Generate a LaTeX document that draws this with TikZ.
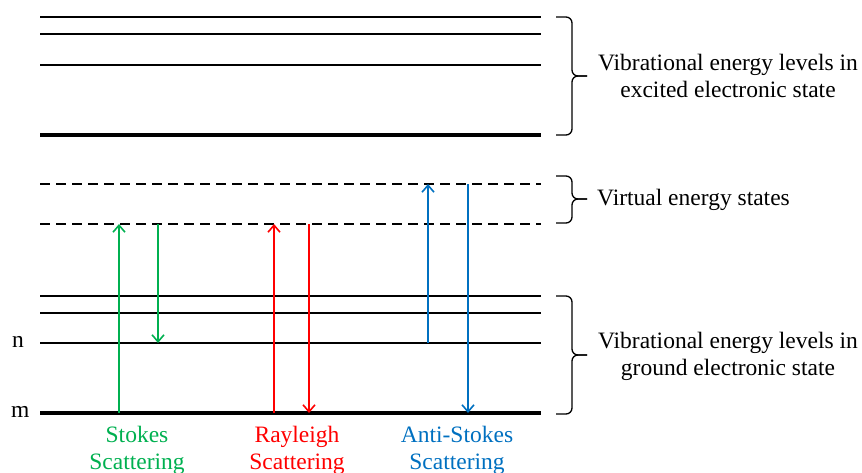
\documentclass[tikz,border=0pt]{standalone}
\usepackage{fontspec}
\setmainfont{Liberation Serif}
\usetikzlibrary{arrows.meta}
\definecolor{stokesgreen}{HTML}{00B050}
\definecolor{rayred}{HTML}{FF0000}
\definecolor{antiblue}{HTML}{0070C0}

% curly brace drawn from straight pieces with rounded joints
\newcommand\levelbrace[4]{%
  \draw[bracepath] (556,#1) -- (572,#1) -- (572,#2) -- (587,#2) coordinate (#4);
  \draw[bracepath] (556,#3) -- (572,#3) -- (572,#2) -- (587,#2);
}

\begin{document}
\begin{tikzpicture}[x=1pt,y=-1pt,
  thinlevel/.style={line width=1.7pt},
  thicklevel/.style={line width=3.6pt},
  virtlevel/.style={line width=1.7pt, dash pattern=on 10pt off 6pt},
  transition/.style={line width=1.6pt, -{Straight Barb[length=7pt,width=12pt,line width=1.6pt]}},
  bracepath/.style={line width=1.3pt, rounded corners=6pt},
  lbl/.style={font=\fontsize{23.5}{27}\selectfont, inner sep=0pt},
]
\useasboundingbox (0,0) rectangle (862,473);

% excited electronic state
\foreach \n/\y in {e1/17,e2/34,e3/65}
  \draw[thinlevel] (40,\y) coordinate (\n L) -- (541,\y) coordinate (\n R);
\draw[thicklevel] (40,135) coordinate (e4L) -- (541,135) coordinate (e4R);

% virtual states
\draw[virtlevel] (40,184) coordinate (v2L) -- (541,184) coordinate (v2R);
\draw[virtlevel] (40,224) coordinate (v1L) -- (541,224) coordinate (v1R);

% ground electronic state
\foreach \n/\y in {g3/296,g2/313,g1/343}
  \draw[thinlevel] (40,\y) coordinate (\n L) -- (541,\y) coordinate (\n R);
\draw[thicklevel] (40,413) coordinate (g0L) -- (541,413) coordinate (g0R);

% transition end points
\coordinate (sa) at (119,413); \coordinate (sb) at (119,224);
\coordinate (sc) at (158,224); \coordinate (sd) at (158,343);
\coordinate (ra) at (274,413); \coordinate (rb) at (274,224);
\coordinate (rc) at (309,224); \coordinate (rd) at (309,413);
\coordinate (aa) at (428,343); \coordinate (ab) at (428,184);
\coordinate (ac) at (468,184); \coordinate (ad) at (468,413);

\draw[transition, stokesgreen] (sa) -- (sb);
\draw[transition, stokesgreen] (sc) -- (sd);
\draw[transition, rayred] (ra) -- (rb);
\draw[transition, rayred] (rc) -- (rd);
\draw[transition, antiblue] (aa) -- (ab);
\draw[transition, antiblue] (ac) -- (ad);

% braces
\levelbrace{17}{76}{135}{btop}
\levelbrace{176}{199}{223}{bmid}
\levelbrace{296}{355}{414}{bbot}

% labels
\node[lbl, align=center] (exctext) at (728,76) {Vibrational energy levels in\\excited electronic state};
\node[lbl, anchor=west] (virttext) at (597,200) {Virtual energy states};
\node[lbl, align=center] (gndtext) at (728,356) {Vibrational energy levels in\\ground electronic state};

\node[lbl, anchor=base west] (nlabel) at (12,347) {n};
\node[lbl, anchor=base west] (mlabel) at (11,417) {m};

\node[lbl, align=center, text=stokesgreen] (stokestext) at (137,450.5) {Stokes\\Scattering};
\node[lbl, align=center, text=rayred] (raytext) at (297,450.5) {Rayleigh\\Scattering};
\node[lbl, align=center, text=antiblue] (antitext) at (457,450.5) {Anti-Stokes\\Scattering};
\end{tikzpicture}
\end{document}
